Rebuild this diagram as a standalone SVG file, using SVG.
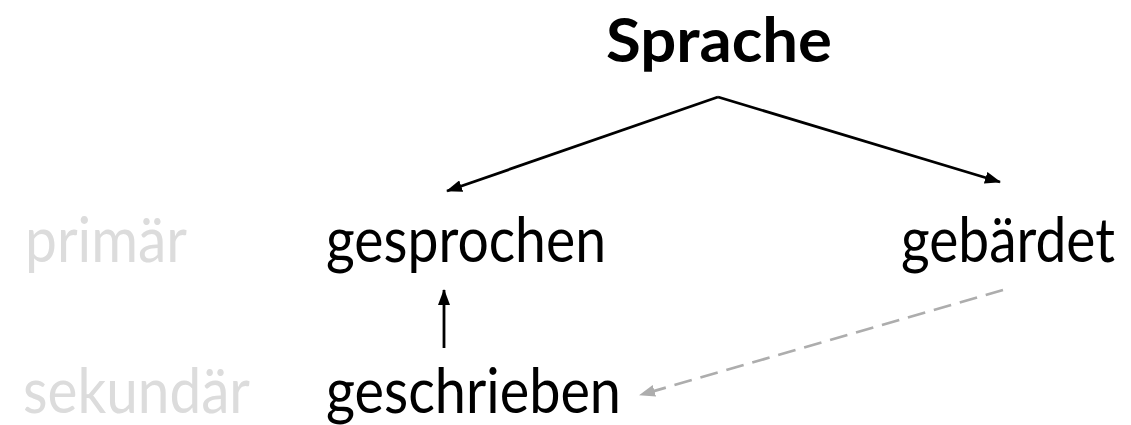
<svg xmlns="http://www.w3.org/2000/svg" width="1131" height="425" viewBox="0 0 1131 425">
<style>
.t{font-family:Lato,"Open Sans",sans-serif;font-size:61px;fill:#000}
.g{fill:#dcdcdc}
.b{font-weight:bold;font-size:62px}
.c{stroke:#000;stroke-width:2.8;fill:none}
.d{stroke:#adadad;stroke-width:2.8;fill:none;stroke-dasharray:18 9}
</style>
<defs>
<marker id="ah" viewBox="0 0 16 12" refX="15" refY="6" markerWidth="16" markerHeight="12" markerUnits="userSpaceOnUse" orient="auto"><path d="M0,0L16,6L0,12z" fill="#000"/></marker>
<marker id="ahg" viewBox="0 0 16 12" refX="15" refY="6" markerWidth="16" markerHeight="12" markerUnits="userSpaceOnUse" orient="auto"><path d="M0,0L16,6L0,12z" fill="#adadad"/></marker>
</defs>
<g id="sprache"><text class="t b" x="606" y="62" textLength="226" lengthAdjust="spacingAndGlyphs">Sprache</text></g>
<g id="primaer"><text class="t g" x="25" y="262" textLength="162" lengthAdjust="spacingAndGlyphs">primär</text></g>
<g id="sekundaer"><text class="t g" x="23" y="413" textLength="227" lengthAdjust="spacingAndGlyphs">sekundär</text></g>
<g id="gesprochen"><text class="t" x="326" y="262" textLength="280" lengthAdjust="spacingAndGlyphs">gesprochen</text></g>
<g id="gebaerdet"><text class="t" x="901" y="262" textLength="214" lengthAdjust="spacingAndGlyphs">gebärdet</text></g>
<g id="geschrieben"><text class="t" x="326" y="413" textLength="295" lengthAdjust="spacingAndGlyphs">geschrieben</text></g>
<g id="connectors">
<path class="c" d="M718,97L447,191" marker-end="url(#ah)"/>
<path class="c" d="M718,97L1000,182" marker-end="url(#ah)"/>
<path class="c" d="M444,348L444,290" marker-end="url(#ah)"/>
<path class="d" d="M1003,290L640,395" marker-end="url(#ahg)"/>
</g>
</svg>
